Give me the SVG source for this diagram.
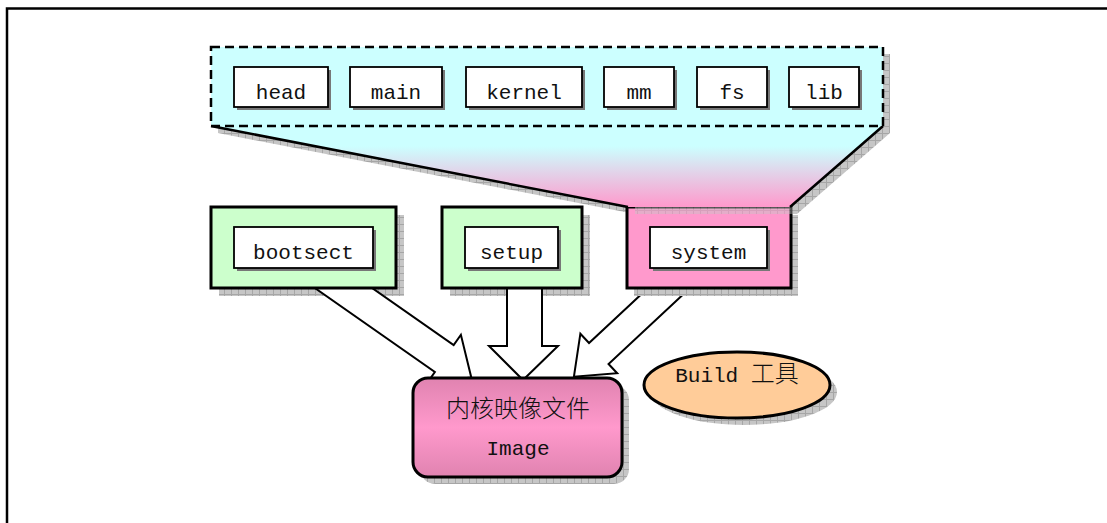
<svg xmlns="http://www.w3.org/2000/svg" width="1107" height="523" viewBox="0 0 1107 523">
<defs>
<pattern id="hatch" width="7" height="7" patternUnits="userSpaceOnUse"><rect width="7" height="7" fill="#c6c6c6"/><path d="M0 0.5H7M0.5 0V7" stroke="#a6a6a6" stroke-width="1"/></pattern>
<linearGradient id="funnel" x1="0" y1="126" x2="0" y2="207" gradientUnits="userSpaceOnUse"><stop offset="0" stop-color="#ccffff"/><stop offset="0.25" stop-color="#ccffff"/><stop offset="1" stop-color="#ff99cc"/></linearGradient>
<linearGradient id="img" x1="0" y1="0" x2="0" y2="1"><stop offset="0" stop-color="#e083b0"/><stop offset="0.5" stop-color="#ff99cc"/><stop offset="1" stop-color="#e083b0"/></linearGradient>
<style>
.sh{fill:url(#hatch)}
.txt{font-family:"Liberation Mono","Noto Sans CJK SC",monospace;font-size:21px;fill:#111;text-anchor:middle}
.cjk{font-family:"Noto Sans CJK SC",sans-serif;font-size:24px;font-weight:300}
.inner{fill:#fff;stroke:#000;stroke-width:1.8}
.ish{fill:#777}
.outer{stroke:#000;stroke-width:3}
.arrow{fill:#fff;stroke:#000;stroke-width:2;stroke-linejoin:miter}
</style>
</defs>
<rect width="1107" height="523" fill="#fff"/>
<path d="M7 523V8.5H1107" fill="none" stroke="#000" stroke-width="2.5"/>

<!-- shadows for top group -->
<rect class="sh" x="218" y="54" width="672" height="79"/>
<polygon class="sh" points="218,133 890,133 797,214 635,214"/>

<g id="bootsect-shadow"><rect class="sh" x="219" y="215" width="185" height="81"/></g>
<g id="setup-shadow"><rect class="sh" x="450" y="215" width="140" height="81"/></g>
<g id="image-shadow"><rect class="sh" x="420" y="385" width="209" height="99" rx="15"/></g>
<g id="build-shadow"><ellipse class="sh" cx="744" cy="392" rx="93" ry="33"/></g>

<g id="connectors">
<polygon class="arrow" transform="translate(343.5,288) rotate(35)" points="-40,-16.4 123,-16.4 123,-29 156,0 123,29 123,16.4 -40,16.4"/>
<polygon class="arrow" points="507,270 542,270 542,346 558,346 523,380 489,346 507,346"/>
<polygon class="arrow" transform="translate(669,288) rotate(137)" points="-40,-14.3 96,-14.3 96,-27 130,0 96,27 96,14.3 -40,14.3"/>
</g>

<g id="bootsect">
<rect x="211" y="207" width="185" height="81" fill="#ccffcc" class="outer"/>
<rect class="ish" x="237" y="230" width="139" height="41"/>
<rect class="inner" x="234" y="227" width="139" height="41"/>
<text class="txt" x="303.5" y="259">bootsect</text>
</g>
<g id="setup">
<rect x="442" y="207" width="140" height="81" fill="#ccffcc" class="outer"/>
<rect class="ish" x="468" y="230" width="93" height="41"/>
<rect class="inner" x="465" y="227" width="93" height="41"/>
<text class="txt" x="511.5" y="259">setup</text>
</g>
<g id="system">
<rect class="sh" x="634" y="215" width="164" height="81"/>
<rect x="627" y="207" width="164" height="81" fill="#ff99cc" class="outer"/>
<rect class="ish" x="653" y="230" width="117" height="41"/>
<rect class="inner" x="650" y="227" width="117" height="41"/>
<text class="txt" x="708.5" y="259">system</text>
</g>
<polygon class="sh" points="635,207 797,207 797,214 635,214" opacity="0.45"/>

<g id="modules">
<polygon points="211,126 883,126 790,207 628,207" fill="url(#funnel)" stroke="none"/>
<path d="M211,126 L628,207 M883,126 L790,207" stroke="#000" stroke-width="2.5" fill="none"/>
<rect x="211" y="47" width="672" height="79" fill="#ccffff" stroke="#000" stroke-width="2.5" stroke-dasharray="9 5"/>
<g id="head"><rect class="ish" x="237" y="70" width="94" height="40"/><rect class="inner" x="234" y="67" width="94" height="40"/><text class="txt" x="281" y="99">head</text></g>
<g id="main"><rect class="ish" x="353" y="70" width="92" height="40"/><rect class="inner" x="350" y="67" width="92" height="40"/><text class="txt" x="396" y="99">main</text></g>
<g id="kernel"><rect class="ish" x="469" y="70" width="116" height="40"/><rect class="inner" x="466" y="67" width="116" height="40"/><text class="txt" x="524" y="99">kernel</text></g>
<g id="mm"><rect class="ish" x="607" y="70" width="70" height="40"/><rect class="inner" x="604" y="67" width="70" height="40"/><text class="txt" x="639" y="99">mm</text></g>
<g id="fs"><rect class="ish" x="700" y="70" width="70" height="40"/><rect class="inner" x="697" y="67" width="70" height="40"/><text class="txt" x="732" y="99">fs</text></g>
<g id="lib"><rect class="ish" x="792" y="70" width="70" height="40"/><rect class="inner" x="789" y="67" width="70" height="40"/><text class="txt" x="824" y="99">lib</text></g>
</g>

<g id="image">
<rect x="413" y="378" width="209" height="99" rx="15" fill="url(#img)" stroke="#000" stroke-width="3"/>
<text class="txt cjk" x="518" y="417">内核映像文件</text>
<text class="txt" x="518" y="455">Image</text>
</g>
<g id="build">
<ellipse cx="737" cy="385" rx="93" ry="33" fill="#ffcc99" stroke="#000" stroke-width="3"/>
<text class="txt" x="737" y="382">Build <tspan class="cjk">工具</tspan></text>
</g>
</svg>
